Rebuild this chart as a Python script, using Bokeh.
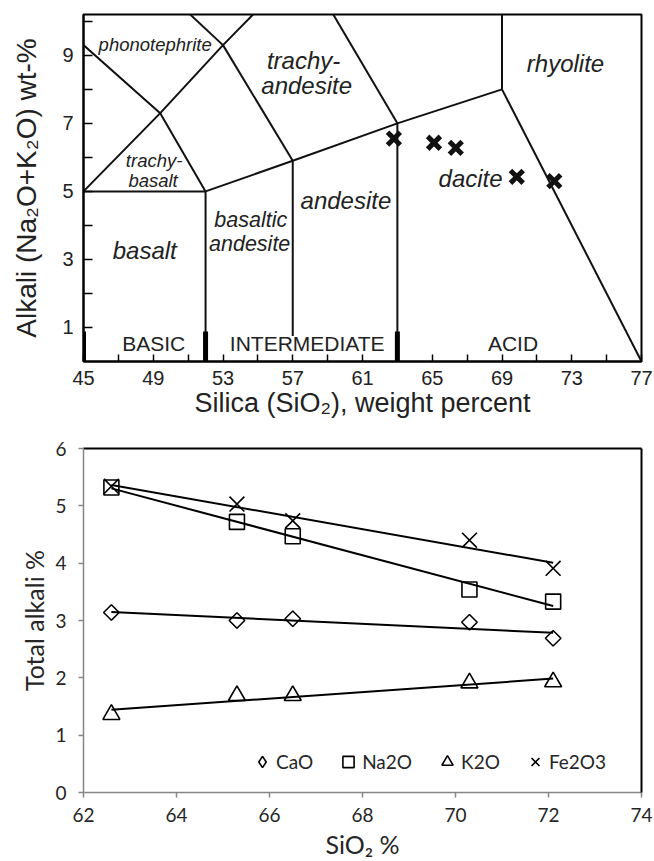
import numpy as np
from bokeh.plotting import figure
from bokeh.models import (ColumnDataSource, FixedTicker, LinearAxis, Legend,
                          LegendItem, Range1d)
from bokeh.layouts import column
from bokeh.core.properties import value
from bokeh.embed import file_html
from bokeh.resources import INLINE

# ---------------- data: TAS diagram (top) ----------------
tas_sio2 = [62.8, 65.1, 66.35, 69.85, 72.0]
tas_alkali = [6.55, 6.43, 6.28, 5.43, 5.30]

# field boundaries of the TAS diagram (SiO2, Na2O+K2O)
bnd_x = [[45, 52], [52, 52], [52, 57, 63, 69], [57, 57], [63, 63],
         [69, 77], [69, 69], [45, 49.4, 53, 57.6], [52, 49.4, 45],
         [53, 57], [53, 48.4], [63, 57.6]]
bnd_y = [[5, 5], [0, 5], [5, 5.9, 7, 8], [0.75, 5.9], [0, 7],
         [8, 0], [8, 12], [5, 7.3, 9.3, 11.7], [5, 7.3, 9.3],
         [9.3, 5.9], [9.3, 11.5], [7, 11.7]]

# basic / intermediate / acid divisions
div_sio2 = [45, 52, 63]
div_top = [0.88, 0.88, 0.88]

field_big = ["trachy-", "andesite", "rhyolite", "basalt", "andesite", "dacite"]
field_big_x = [57.62, 57.8, 72.64, 48.51, 60.05, 67.2]
field_big_y = [8.86, 8.10, 8.76, 3.26, 4.73, 5.38]
field_mid = ["basaltic", "andesite"]
field_mid_x = [54.59, 54.53]
field_mid_y = [4.15, 3.44]
field_small = ["phonotephrite", "trachy-", "basalt"]
field_small_x = [49.11, 49.05, 48.99]
field_small_y = [9.32, 5.91, 5.33]
classes = ["BASIC", "INTERMEDIATE", "ACID"]
classes_x = [49.03, 57.83, 69.63]
classes_y = [0.52, 0.52, 0.52]

x1_ticks = list(range(45, 78, 2))
x1_labels = {t: (str(t) if (t - 45) % 4 == 0 else "") for t in x1_ticks}
y1_ticks = list(range(1, 11))
y1_labels = {t: (str(t) if t % 2 == 1 else "") for t in y1_ticks}

# ---------------- data: oxides vs SiO2 (bottom) ----------------
sio2 = [62.6, 65.3, 66.5, 70.3, 72.1]
cao = [3.14, 3.00, 3.03, 2.97, 2.69]
na2o = [5.32, 4.72, 4.47, 3.54, 3.33]
k2o = [1.36, 1.69, 1.69, 1.91, 1.93]
fe2o3 = [5.34, 5.03, 4.74, 4.40, 3.91]
x2_ticks = [62, 64, 66, 68, 70, 72, 74]
y2_ticks = [0, 1, 2, 3, 4, 5, 6]

# =========================================================
ARIAL = value("Liberation Sans")

p1 = figure(width=654, height=420, x_range=Range1d(45, 77), y_range=Range1d(0, 10.2),
            output_backend="svg", toolbar_location=None,
            min_border_left=83, min_border_right=13, min_border_top=14, min_border_bottom=58)
p1.xgrid.visible = False
p1.ygrid.visible = False
p1.outline_line_color = "black"
p1.outline_line_width = 2
p1.background_fill_color = "white"
p1.border_fill_color = "white"

p1.multi_line(xs=bnd_x, ys=bnd_y, line_color="#111111", line_width=2)
p1.segment(x0=div_sio2, y0=[0] * 3, x1=div_sio2, y1=div_top, line_color="black", line_width=5)

p1.scatter(x=tas_sio2, y=tas_alkali, marker="x", size=18, line_width=5, line_color="#111111")

src_big = ColumnDataSource(dict(x=field_big_x, y=field_big_y, t=field_big))
p1.text(x="x", y="y", text="t", source=src_big, text_font=ARIAL, text_font_style="italic",
        text_font_size="24px", text_align="center", text_baseline="middle", text_color="#222222")
src_mid = ColumnDataSource(dict(x=field_mid_x, y=field_mid_y, t=field_mid))
p1.text(x="x", y="y", text="t", source=src_mid, text_font=ARIAL, text_font_style="italic",
        text_font_size="21.5px", text_align="center", text_baseline="middle", text_color="#222222")
src_small = ColumnDataSource(dict(x=field_small_x, y=field_small_y, t=field_small))
p1.text(x="x", y="y", text="t", source=src_small, text_font=ARIAL, text_font_style="italic",
        text_font_size="18.5px", text_align="center", text_baseline="middle", text_color="#222222")
src_cls = ColumnDataSource(dict(x=classes_x, y=classes_y, t=classes))
p1.text(x="x", y="y", text="t", source=src_cls, text_font=ARIAL,
        text_font_size="21px", text_align="center", text_baseline="middle", text_color="#222222")

for ax in (p1.xaxis[0], p1.yaxis[0]):
    ax.axis_line_color = "black"
    ax.axis_line_width = 2
    ax.major_tick_line_color = "black"
    ax.major_tick_line_width = 1.5
    ax.major_tick_out = 0
    ax.minor_tick_line_color = None
    ax.major_label_text_font = "Liberation Sans"
    ax.major_label_text_font_size = "20px"
    ax.major_label_text_color = "#222222"
    ax.axis_label_text_font = "Liberation Sans"
    ax.axis_label_text_font_style = "normal"
    ax.axis_label_text_font_size = "27px"
    ax.axis_label_text_color = "#222222"

p1.xaxis[0].ticker = FixedTicker(ticks=x1_ticks)
p1.xaxis[0].major_label_overrides = x1_labels
p1.xaxis[0].major_tick_in = 7
p1.xaxis[0].major_label_standoff = 9
p1.xaxis[0].axis_label = "Silica (SiO₂), weight percent"
p1.xaxis[0].axis_label_standoff = 0

p1.yaxis[0].ticker = FixedTicker(ticks=y1_ticks)
p1.yaxis[0].major_label_overrides = y1_labels
p1.yaxis[0].major_tick_in = 9
p1.yaxis[0].major_label_standoff = 10
p1.yaxis[0].axis_label = "Alkali (Na₂O+K₂O) wt-%"
p1.yaxis[0].axis_label_text_font_size = "28px"
p1.yaxis[0].axis_label_standoff = 17

# =========================================================
LATO = "Lato"
GRAY = "#868686"
TXT = "#262626"

p2 = figure(width=654, height=441, x_range=Range1d(62, 74), y_range=Range1d(0, 6),
            output_backend="svg", toolbar_location=None,
            min_border_left=77, min_border_right=8, min_border_top=28, min_border_bottom=66)
p2.xgrid.visible = False
p2.ygrid.visible = False
p2.outline_line_color = None
p2.background_fill_color = "white"
p2.border_fill_color = "white"

series = [("CaO", cao), ("Na2O", na2o), ("K2O", k2o), ("Fe2O3", fe2o3)]
xs = np.array(sio2)
for name, vals in series:
    k, b = np.polyfit(xs, np.array(vals), 1)
    xe = np.array([xs.min(), xs.max()])
    p2.line(x=xe, y=k * xe + b, line_color="black", line_width=2)

p2.scatter(x=sio2, y=cao, marker="square", angle=np.pi / 4, size=11,
           fill_alpha=0, line_color="black", line_width=1.6)
# zero-size twin used only for the legend symbol (legend ignores glyph angle)
r_cao = p2.scatter(x=sio2, y=cao, marker="diamond", size=0,
                   fill_alpha=0, line_color="black", line_width=1.6)
r_na = p2.scatter(x=sio2, y=na2o, marker="square", size=15,
                  fill_alpha=0, line_color="black", line_width=1.6)
r_k = p2.scatter(x=sio2, y=k2o, marker="triangle", size=17,
                 fill_alpha=0, line_color="black", line_width=1.6)
r_fe = p2.scatter(x=sio2, y=fe2o3, marker="x", size=21,
                  line_color="black", line_width=1.6)

legend = Legend(items=[LegendItem(label="CaO", renderers=[r_cao]),
                       LegendItem(label="Na2O", renderers=[r_na]),
                       LegendItem(label="K2O", renderers=[r_k]),
                       LegendItem(label="Fe2O3", renderers=[r_fe])],
                orientation="horizontal", location=(165, 13),
                glyph_width=28, glyph_height=35, label_height=35, label_standoff=0,
                spacing=21, padding=0, margin=0,
                border_line_alpha=0, background_fill_alpha=0,
                label_text_font=LATO, label_text_font_size="19px", label_text_color=TXT)
p2.add_layout(legend)

for ax in (p2.xaxis[0], p2.yaxis[0]):
    ax.axis_line_color = GRAY
    ax.axis_line_width = 1.5
    ax.major_tick_line_color = GRAY
    ax.major_tick_line_width = 1.5
    ax.major_tick_in = 0
    ax.major_tick_out = 5
    ax.minor_tick_line_color = None
    ax.major_label_text_font = LATO
    ax.major_label_text_font_size = "19px"
    ax.major_label_text_color = TXT
    ax.axis_label_text_font = LATO
    ax.axis_label_text_font_style = "normal"
    ax.axis_label_text_font_size = "25px"
    ax.axis_label_text_color = TXT

p2.xaxis[0].ticker = FixedTicker(ticks=x2_ticks)
p2.xaxis[0].major_label_standoff = 10
p2.xaxis[0].axis_label = "SiO₂ %"
p2.xaxis[0].axis_label_standoff = 4
p2.yaxis[0].ticker = FixedTicker(ticks=y2_ticks)
p2.yaxis[0].major_label_standoff = 12
p2.yaxis[0].axis_label = "Total alkali %"
p2.yaxis[0].axis_label_standoff = 3

for loc in ("above", "right"):
    a = LinearAxis(ticker=FixedTicker(ticks=[]), axis_line_color="black", axis_line_width=2,
                   major_tick_line_color=None, minor_tick_line_color=None,
                   major_label_text_font_size="0px", major_label_standoff=0)
    p2.add_layout(a, loc)

layout = column(p1, p2, spacing=0)
open("out.html", "w").write(file_html(layout, INLINE))
